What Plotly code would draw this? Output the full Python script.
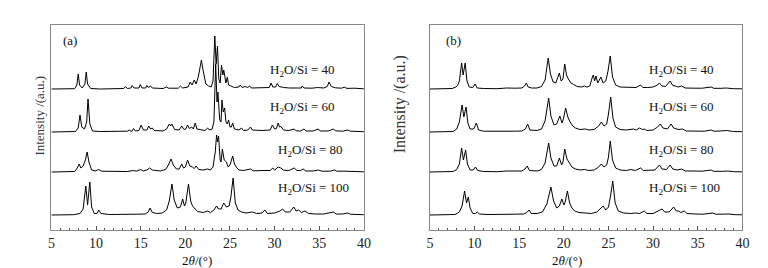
import plotly.graph_objects as go

# ---- data (2theta, relative intensity) ----
A40 = [(5,0),(7.6,0.3),(7.85,4),(8.0,15),(8.15,4),(8.45,1),(8.75,5),(8.9,17),(9.05,5),(9.4,0.5),(10.5,0),(12,0.3),(13.1,0.5),(13.3,2.5),(13.5,0.5),(13.9,1),(14.05,3.5),(14.25,1),(14.8,1),(14.95,4.5),(15.15,1),(15.55,1),(15.7,3.5),(15.85,1.5),(16.1,3),(16.3,1),(17.5,0.5),(17.9,2),(18.1,0.8),(19.2,0.8),(19.45,3),(19.7,1),(20.3,2),(20.55,7),(20.75,4),(21.0,9),(21.2,5),(21.45,12),(21.8,29),(22.0,18),(22.3,5),(22.6,3),(22.9,2),(23.1,8),(23.3,53),(23.45,25),(23.6,43),(23.75,10),(23.9,6),(24.05,24),(24.2,14),(24.3,19),(24.45,8),(24.55,6),(24.7,12),(24.85,4),(25.1,3),(25.5,1.5),(26.0,2),(26.15,4),(26.35,1.5),(26.7,2.5),(27.0,1.5),(27.2,3),(27.4,1),(28.2,1),(28.8,1.5),(29.4,1.5),(29.6,6),(29.8,2),(30.1,2),(30.3,5.5),(30.5,2.5),(31,1.5),(31.7,1),(32.4,1),(33.0,1),(33.1,3),(33.3,1),(34.2,0.8),(34.8,1.5),(35.5,1),(35.9,2.5),(36.1,7),(36.35,2.5),(36.8,1.2),(37.5,0.8),(37.8,1.8),(38.1,0.6),(38.9,0.8),(39.4,0.3),(40,0.2)]
A60 = [(5,0),(7.7,0.5),(8.0,4),(8.2,17),(8.4,5),(8.7,3),(8.95,10),(9.1,33),(9.3,8),(9.6,1),(10.5,0.5),(12,0.3),(13.5,0.8),(13.7,2),(13.9,0.8),(14.05,1),(14.2,3.5),(14.4,1),(14.8,1.5),(15.05,7),(15.3,2),(15.7,2),(15.9,6),(16.1,3),(16.3,4),(16.5,1.5),(17.5,1),(17.9,3),(18.2,8),(18.35,6),(18.5,8),(18.8,2.5),(19.3,2),(19.6,6),(19.85,2.5),(20.05,3),(20.25,7),(20.45,3.5),(20.7,5),(20.9,3),(21.1,9),(21.3,3),(21.8,2),(22.2,1.5),(22.5,4),(22.7,2),(23.0,3),(23.2,10),(23.4,68),(23.55,30),(23.65,40),(23.85,12),(24.0,10),(24.1,32),(24.25,20),(24.4,24),(24.55,10),(24.7,8),(24.85,12),(25.0,5),(25.15,5),(25.3,9),(25.5,3),(26.0,2),(26.3,4),(26.5,1.5),(27.0,2),(27.3,5),(27.5,2),(28.0,1.5),(28.6,1.5),(29.5,2),(29.75,7),(30.0,3),(30.2,3.5),(30.4,9),(30.55,5),(30.7,5.5),(31.0,2),(31.6,1.5),(32.2,3),(32.4,1.2),(32.9,1),(33.3,3),(33.5,1),(34.3,1),(34.9,3),(35.1,1),(36.0,1),(36.6,3),(36.8,1.2),(37.6,0.8),(38.2,2),(38.5,0.8),(39.3,0.5),(40,0.3)]
A80 = [(5,0),(7.6,0.5),(7.9,4),(8.1,8),(8.3,4),(8.55,6),(8.8,12),(9.0,20),(9.2,10),(9.5,2),(9.9,1),(10.3,2.5),(10.6,0.8),(12,0.5),(13.5,0.5),(14.2,1.5),(14.5,0.8),(15.0,2.5),(15.3,1),(15.7,2),(16.0,4),(16.3,2),(17.2,1),(17.8,2.5),(18.1,7),(18.4,13),(18.65,7),(19.0,3),(19.3,3),(19.6,8),(19.8,4),(20.0,5),(20.25,12),(20.5,6),(20.8,5),(21.0,3.5),(21.2,6),(21.5,2.5),(22.0,2),(22.5,3),(22.8,2),(23.1,5),(23.35,20),(23.5,37),(23.6,30),(23.72,36),(23.9,12),(24.0,10),(24.15,23),(24.35,12),(24.6,10),(24.8,5),(25.0,7),(25.3,16),(25.5,8),(25.7,5),(26.0,2),(26.5,1.5),(27.3,3),(27.6,1.2),(28.3,1),(28.8,1.5),(29.5,1.5),(29.8,4),(30.0,1.8),(30.4,5),(30.7,4),(31.0,1.8),(31.6,1.5),(32.2,4),(32.5,1.5),(32.9,1.5),(33.2,3),(33.5,1),(34.3,1),(34.9,2),(35.3,0.8),(36.2,0.8),(36.7,2),(37.0,0.8),(38.0,0.8),(39,0.5),(40,0.2)]
A100 = [(5,0),(7.5,0.3),(8.2,1.5),(8.55,6),(8.85,29),(9.05,10),(9.3,33),(9.5,8),(9.8,1.5),(10.1,1.5),(10.3,5),(10.55,1.5),(11.5,0.5),(13,0.3),(14.5,0.8),(15.5,1),(15.85,3),(16.05,7),(16.3,2.5),(16.8,1.5),(17.4,2),(17.9,5),(18.2,14),(18.5,31),(18.75,15),(19.1,7),(19.45,8),(19.7,16),(19.9,9),(20.05,12),(20.35,31),(20.6,14),(20.8,9),(21.1,6),(21.4,3.5),(22.0,2.5),(22.5,4),(22.8,2.5),(23.2,5),(23.5,9),(23.7,6),(24.0,6),(24.3,12),(24.6,8),(24.9,9),(25.1,18),(25.35,37),(25.6,12),(25.9,5),(26.3,3),(26.8,2),(27.5,3),(28.0,1.5),(28.6,2),(28.9,5),(29.2,1.5),(30,2),(30.6,4),(30.9,6),(31.2,3),(31.7,3),(32.15,8),(32.4,4),(32.7,5),(33.0,2.5),(33.4,4),(33.8,1.5),(34.6,1),(35.5,1),(36.6,3),(36.9,1),(37.6,1),(38.2,2),(38.5,0.7),(39.2,0.5),(40,0.3)]

B40 = [(5,0),(7.5,0.5),(7.9,2),(8.1,3.5),(8.3,8),(8.55,26),(8.72,14),(8.95,26),(9.15,8),(9.4,2),(9.8,1.5),(10.05,5),(10.3,1),(11,0.5),(12.5,0.3),(13.6,1),(14.5,0.8),(15.3,1),(15.6,3),(15.8,6),(16.0,2),(16.4,1),(17.0,1),(17.5,2.5),(17.9,9),(18.25,31),(18.5,15),(18.8,7),(19.1,6),(19.5,16),(19.7,8),(19.9,10),(20.1,25),(20.3,14),(20.5,10),(20.8,6),(21.1,4.5),(21.5,2.5),(22.0,2),(22.3,3),(22.6,2),(22.9,3),(23.2,12),(23.3,14),(23.45,8),(23.6,13),(23.8,6),(24.0,9),(24.15,12),(24.4,6),(24.7,8),(24.95,18),(25.2,33),(25.45,12),(25.8,4),(26.3,2),(26.8,2),(27.3,1.5),(27.7,2),(28.1,1.5),(28.6,4),(28.85,1.5),(29.4,1.5),(30.0,2),(30.5,4),(30.7,6),(31.0,3),(31.4,2.5),(31.9,8),(32.2,3.5),(32.5,3),(32.8,2),(33.2,3),(33.6,1),(34.5,0.8),(35.5,0.8),(36.5,2),(36.8,0.7),(37.6,0.7),(38.2,1),(39,0.3),(40,0.2)]
B60 = [(5,0),(7.6,0.5),(8.0,3),(8.3,10),(8.6,27),(8.8,15),(9.05,25),(9.25,9),(9.5,3),(9.9,3),(10.2,9),(10.45,2),(11,0.8),(12.5,0.5),(13.6,1),(14.5,0.8),(15.3,1),(15.7,3),(15.95,8),(16.2,2),(17,1.5),(17.5,3),(17.9,11),(18.3,34),(18.55,16),(18.9,7),(19.2,8),(19.55,16),(19.8,9),(19.95,13),(20.2,24),(20.45,15),(20.7,10),(21.0,6),(21.3,4),(21.8,2.5),(22.4,3),(22.8,2),(23.4,2.5),(23.9,6),(24.2,10),(24.5,6),(24.8,8),(25.0,18),(25.25,35),(25.5,14),(25.8,5),(26.3,2.5),(27.0,2),(27.8,3),(28.1,2),(28.5,4),(28.8,2.5),(29.0,3),(29.3,1.5),(30.0,2),(30.5,5),(30.8,8),(31.1,4),(31.6,3),(32.0,8),(32.3,4),(32.8,2.5),(33.3,3),(33.7,1),(34.7,1),(35.8,0.8),(36.5,2),(36.8,0.8),(37.5,1),(38.2,1.5),(39,0.5),(40,0.3)]
B80 = [(5,0),(7.6,0.5),(8.0,2.5),(8.3,8),(8.55,24),(8.75,12),(9.0,22),(9.2,8),(9.5,2),(9.85,2),(10.1,5),(10.35,1.5),(11,0.5),(12.5,0.3),(13.6,1),(14.5,0.8),(15.3,1),(15.65,3),(15.9,6),(16.15,1.5),(17,1),(17.5,2.5),(17.9,9),(18.3,29),(18.55,14),(18.9,6),(19.2,6),(19.5,14),(19.75,7),(19.9,10),(20.1,23),(20.35,13),(20.6,9),(20.9,5),(21.3,3),(21.8,2),(22.3,2.5),(22.8,1.5),(23.4,2),(23.9,5),(24.2,8),(24.5,5),(24.8,7),(25.0,15),(25.2,31),(25.45,12),(25.8,4),(26.3,2),(27.0,1.5),(27.5,2.5),(28.0,1.5),(28.6,4),(28.9,1.5),(29.5,1.5),(30.2,2),(30.7,7),(31.0,3),(31.5,2.5),(31.9,7),(32.2,3),(32.7,2),(33.2,3),(33.6,1),(34.6,1),(35.5,0.8),(36.5,2),(36.8,0.7),(37.8,0.7),(38.3,1),(39,0.3),(40,0.2)]
B100 = [(5,0),(7.8,0.5),(8.3,3),(8.6,9),(8.88,24),(9.1,12),(9.3,18),(9.5,7),(9.8,1.5),(10.1,1.5),(10.3,3),(10.55,1),(11.5,0.5),(13,0.3),(14.5,0.8),(15.5,1),(15.85,2.5),(16.1,5),(16.35,1.5),(17.0,1.5),(17.6,3),(18.1,11),(18.55,28),(18.85,14),(19.2,7),(19.5,9),(19.78,16),(20.0,10),(20.15,13),(20.4,24),(20.65,12),(20.9,7),(21.2,4),(21.7,2.5),(22.6,2),(23.1,1.5),(23.7,3),(24.1,6),(24.4,9),(24.7,5),(25.0,8),(25.25,20),(25.48,34),(25.75,12),(26.1,4),(26.7,2),(27.5,1.5),(28.0,2),(28.5,1.5),(29.0,4),(29.3,1.5),(30.0,1.5),(30.6,4),(31.0,6),(31.3,3),(31.8,3),(32.3,8),(32.6,4),(32.85,4),(33.1,2.5),(33.5,4),(33.8,1.5),(34.7,1),(35.6,0.8),(36.7,2),(37.0,0.8),(37.8,0.8),(38.5,1),(39.2,0.3),(40,0.2)]

RATIOS = [40, 60, 80, 100]
OFFSETS = [141, 98, 58, 15]
PANEL_A = [A40, A60, A80, A100]
PANEL_B = [B40, B60, B80, B100]
X_TICKS = [5, 10, 15, 20, 25, 30, 35, 40]

W, H = 768, 268
SERIF = "Liberation Serif, Times New Roman, serif"

fig = go.Figure()
for panel, (xa, ya) in ((PANEL_A, ("x", "y")), (PANEL_B, ("x2", "y2"))):
    for series, off in zip(panel, OFFSETS):
        fig.add_trace(go.Scatter(
            x=[p[0] for p in series], y=[p[1] + off for p in series],
            mode="lines", line=dict(color="black", width=1),
            xaxis=xa, yaxis=ya, showlegend=False, hoverinfo="skip"))

def xax(domain, anchor):
    return dict(domain=domain, anchor=anchor, range=[5, 40], tickvals=X_TICKS,
                ticks="inside", ticklen=4, tickcolor="#555", tickwidth=1,
                minor=dict(dtick=1, tick0=5, ticks="inside", ticklen=2, tickcolor="#555"),
                showline=True, linecolor="#888", linewidth=1, mirror=True,
                showgrid=False, zeroline=False, ticklabelstandoff=0,
                tickfont=dict(family=SERIF, size=14, color="#222"))

def yax(anchor):
    return dict(domain=[1 - 222 / H, 1 - 17 / H], anchor=anchor, range=[0, 205],
                showticklabels=False, ticks="", showline=True, linecolor="#888",
                linewidth=1, mirror=True, showgrid=False, zeroline=False)

fig.update_layout(
    width=W, height=H, margin=dict(l=0, r=0, t=0, b=0),
    paper_bgcolor="white", plot_bgcolor="white",
    xaxis=xax([40 / W, 357 / W], "y"), yaxis=yax("x"),
    xaxis2=xax([424 / W, 741 / W], "y2"), yaxis2=yax("x2"),
)

ann = []
label_y = [160, 123, 80, 42]
label_x_a = [29.3, 29.3, 30.2, 30.2]
for r, ly, lx in zip(RATIOS, label_y, label_x_a):
    ann.append(dict(x=lx, y=ly, xref="x", yref="y", xanchor="left", yanchor="middle",
                    text=f"H<sub>2</sub>O/Si = {r}", showarrow=False,
                    font=dict(family=SERIF, size=13, color="#111")))
    ann.append(dict(x=29.3, y=ly, xref="x2", yref="y2", xanchor="left", yanchor="middle",
                    text=f"H<sub>2</sub>O/Si = {r}", showarrow=False,
                    font=dict(family=SERIF, size=13, color="#111")))
ann.append(dict(x=6.1, y=190, xref="x", yref="y", xanchor="left", yanchor="middle",
                text="(a)", showarrow=False, font=dict(family=SERIF, size=13, color="#111")))
ann.append(dict(x=6.6, y=190, xref="x2", yref="y2", xanchor="left", yanchor="middle",
                text="(b)", showarrow=False, font=dict(family=SERIF, size=13, color="#111")))
ann.append(dict(x=21.3, y=1 - 252 / H, xref="x", yref="paper", xanchor="center", yanchor="middle",
                text="2<i>θ</i>/(°)", showarrow=False, font=dict(family=SERIF, size=13, color="#111")))
ann.append(dict(x=20.3, y=1 - 252 / H, xref="x2", yref="paper", xanchor="center", yanchor="middle",
                text="2<i>θ</i>/(°)", showarrow=False, font=dict(family=SERIF, size=13, color="#111")))
ann.append(dict(x=27 / W, y=1 - 108 / H, xref="paper", yref="paper", xanchor="center", yanchor="middle",
                text="Intensity /(a.u.)", textangle=-90, showarrow=False,
                font=dict(family=SERIF, size=13, color="#333")))
ann.append(dict(x=394 / W, y=1 - 96 / H, xref="paper", yref="paper", xanchor="center", yanchor="middle",
                text="Intensity /(a.u.)", textangle=-90, showarrow=False,
                font=dict(family=SERIF, size=16, color="#333")))
fig.update_layout(annotations=ann)

fig.write_html("out.html")
